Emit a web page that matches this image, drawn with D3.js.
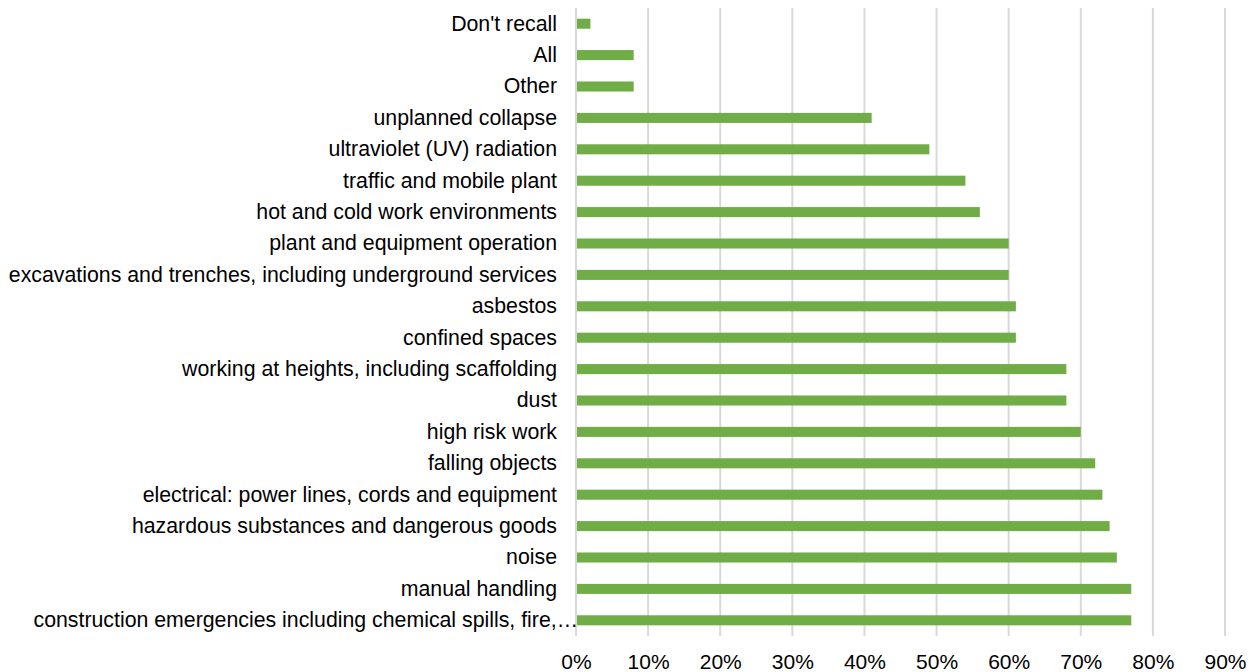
<!DOCTYPE html>
<html>
<head>
<meta charset="utf-8">
<script src="https://cdn.jsdelivr.net/npm/d3@7"></script>
<style>
  body { margin: 0; background: #fff; }
  text { font-family: "Liberation Sans", Arial, sans-serif; fill: #000; }
</style>
</head>
<body>
<div id="chart"></div>
<script>
var svgWidth = 1257;
var svgHeight = 672;

// categories top to bottom
var hazards = [
  "Don't recall",
  "All",
  "Other",
  "unplanned collapse",
  "ultraviolet (UV) radiation",
  "traffic and mobile plant",
  "hot and cold work environments",
  "plant and equipment operation",
  "excavations and trenches, including underground services",
  "asbestos",
  "confined spaces",
  "working at heights, including scaffolding",
  "dust",
  "high risk work",
  "falling objects",
  "electrical: power lines, cords and equipment",
  "hazardous substances and dangerous goods",
  "noise",
  "manual handling",
  "construction emergencies including chemical spills, fire,\u2026"
];
var shares = [0.02, 0.08, 0.08, 0.41, 0.49, 0.54, 0.56, 0.60, 0.60, 0.61, 0.61,
              0.68, 0.68, 0.70, 0.72, 0.73, 0.74, 0.75, 0.77, 0.77];
var tickValues = [0, 0.1, 0.2, 0.3, 0.4, 0.5, 0.6, 0.7, 0.8, 0.9];

var margin = { top: 8, right: 32, bottom: 36, left: 576 };
var width = svgWidth - margin.left - margin.right;
var height = svgHeight - margin.top - margin.bottom;

var svg = d3.select("#chart")
  .append("svg")
  .attr("width", svgWidth)
  .attr("height", svgHeight);

var chartGroup = svg.append("g")
  .attr("transform", `translate(${margin.left}, ${margin.top})`);

var xScale = d3.scaleLinear().domain([0, 0.9]).range([0, width]);
var yScale = d3.scaleBand().domain(hazards).range([0, height]).paddingInner(0.68).paddingOuter(0.34);

// gridlines
chartGroup.append("g")
  .selectAll("line")
  .data(tickValues)
  .enter()
  .append("line")
  .attr("x1", d => xScale(d))
  .attr("x2", d => xScale(d))
  .attr("y1", 0)
  .attr("y2", height)
  .attr("stroke", "#d9d9d9")
  .attr("stroke-width", 2);

// bars
chartGroup.selectAll("rect")
  .data(hazards)
  .enter()
  .append("rect")
  .attr("x", xScale(0) + 1)
  .attr("y", d => yScale(d))
  .attr("width", (d, i) => xScale(shares[i]) - xScale(0) - 1)
  .attr("height", yScale.bandwidth())
  .attr("fill", "#70ad47");

// x axis
var xAxis = d3.axisBottom(xScale)
  .tickValues(tickValues)
  .tickFormat(d3.format(".0%"))
  .tickSize(0)
  .tickPadding(18);

var xg = chartGroup.append("g")
  .attr("transform", `translate(0, ${height})`)
  .call(xAxis);
xg.select(".domain").remove();
xg.selectAll("text")
  .style("font-family", "Liberation Sans, Arial, sans-serif")
  .attr("font-size", "21px")
  .attr("fill", "#000");

// y axis labels
var yAxis = d3.axisLeft(yScale).tickSize(0).tickPadding(19);
var yg = chartGroup.append("g").call(yAxis);
yg.select(".domain").remove();
yg.selectAll("text")
  .style("font-family", "Liberation Sans, Arial, sans-serif")
  .attr("font-size", "21.3px")
  .attr("fill", "#000");

// truncated label sits right against the axis, like Excel does
yg.selectAll("text")
  .filter(d => d === hazards[hazards.length - 1])
  .attr("x", 2);
</script>
</body>
</html>
